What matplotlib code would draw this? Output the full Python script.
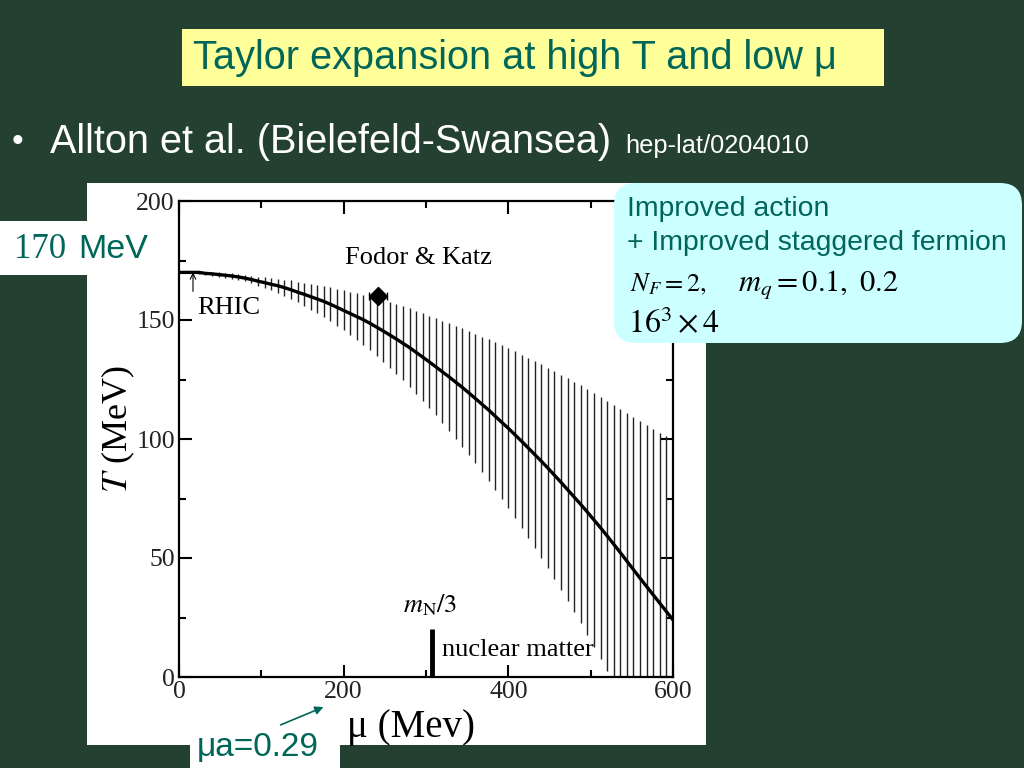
import matplotlib
matplotlib.use('Agg')
import matplotlib.pyplot as plt
from matplotlib.patches import Rectangle, FancyBboxPatch, FancyArrowPatch
from matplotlib.transforms import IdentityTransform

# chemical potential mu (MeV) at which the error bars are drawn
mu = list(range(0, 608, 8))
# transition temperature T(mu) in MeV
T = [170.0, 170.0, 170.0, 170.0, 169.6, 169.4, 169.1, 168.8, 168.5, 168.1,
     167.6, 167.0, 166.3, 165.7, 165.0, 164.4, 163.6, 162.7, 161.7, 160.8,
     159.8, 158.8, 157.8, 156.6, 155.3, 154.0, 152.7, 151.4, 150.1, 148.6,
     147.0, 145.4, 143.7, 142.0, 140.2, 138.4, 136.4, 134.4, 132.4, 130.3,
     128.2, 126.1, 123.9, 121.7, 119.4, 117.0, 114.6, 112.2, 109.6, 107.0,
     104.5, 101.8, 99.1, 96.3, 93.5, 90.7, 87.8, 84.8, 81.8, 78.7,
     75.6, 72.5, 69.3, 66.0, 62.7, 59.3, 55.8, 52.3, 48.7, 45.1,
     41.5, 38.0, 34.5, 31.0, 27.5, 24.0]
# half length of the error bars
dT = [0.0, 0.3, 0.4, 0.5, 0.7, 0.8, 0.9, 1.0, 1.1, 1.2,
      1.4, 1.6, 1.9, 2.2, 2.6, 3.0, 3.4, 3.9, 4.3, 4.8,
      5.4, 5.9, 6.5, 7.1, 7.7, 8.4, 9.1, 9.8, 10.5, 11.3,
      12.1, 12.9, 13.8, 14.6, 15.5, 16.5, 17.4, 18.4, 19.4, 20.4,
      21.5, 22.6, 23.7, 24.9, 26.0, 27.2, 28.4, 29.7, 31.0, 32.3,
      33.6, 35.0, 36.3, 37.8, 39.2, 40.7, 42.1, 43.7, 45.2, 46.8,
      48.4, 50.0, 51.7, 53.3, 55.0, 56.8, 58.5, 60.3, 62.1, 64.0,
      65.9, 67.8, 69.7, 71.6, 73.6, 75.6]

# Fodor & Katz point
fk_mu, fk_T, fk_xerr, fk_yerr = 242, 160, 11, 2
# nuclear matter marker (m_N/3)
nm_mu, nm_T = 307, 20

BG = '#244030'
TEAL = '#00665A'
SERIF = 'Liberation Serif'
SANS = 'Liberation Sans'
plt.rcParams['mathtext.fontset'] = 'stix'


def fx(px):
    return px / 1024


def fy(py):
    return 1 - py / 768


fig = plt.figure(figsize=(10.24, 7.68), dpi=100, facecolor=BG)

# white panel behind the plot
fig.add_artist(Rectangle((fx(87), fy(745)), (706 - 87) / 1024, (745 - 183) / 768,
                         transform=fig.transFigure, facecolor='white', edgecolor='none', zorder=-1))

ax = fig.add_axes([fx(179), fy(677), (673 - 179) / 1024, (677 - 201) / 768])
ax.set_facecolor('white')

lower = [t - d for t, d in zip(T, dT)]
upper = [t + d for t, d in zip(T, dT)]
ax.vlines(mu[1:], lower[1:], upper[1:], color='#222222', lw=1.0)
ax.plot(mu, T, color='black', lw=2.4)
ax.errorbar([fk_mu], [fk_T], xerr=[fk_xerr], yerr=[fk_yerr], fmt='D', color='black',
            ms=9, capsize=3, lw=1.2)

ax.vlines([nm_mu], 0, nm_T, color='black', lw=3.5)
ax.text(305, 30, r'$m_{\rm N}/3$', fontsize=19, ha='center', va='center')
ax.text(319, 11.3, 'nuclear matter', fontsize=19, family=SERIF, ha='left', va='center')
ax.text(202, 176, 'Fodor & Katz', fontsize=19, family=SERIF, ha='left', va='center')
ax.text(22, 155, 'RHIC', fontsize=19, family=SERIF, ha='left', va='center')
ax.annotate('', xy=(17, 170), xytext=(17, 162),
            arrowprops=dict(arrowstyle='->', lw=0.8, color='black', shrinkA=0, shrinkB=0))

ax.set_xlim(0, 600)
ax.set_ylim(0, 200)
ax.set_xticks([0, 200, 400, 600])
ax.set_xticks([100, 300, 500], minor=True)
ax.set_yticks([0, 50, 100, 150, 200])
ax.set_yticks([25, 75, 125, 175], minor=True)
ax.tick_params(which='both', direction='in', top=True, right=True, width=1.5,
               labelsize=18.5, pad=3)
ax.tick_params(which='major', length=9)
ax.tick_params(which='minor', length=5)
for lab in ax.get_xticklabels() + ax.get_yticklabels():
    lab.set_family(SERIF)
    lab.set_color('#222222')
for s in ax.spines.values():
    s.set_linewidth(1.6)
ax.set_xlabel('μ (Mev)', fontsize=28, family=SERIF)
ax.xaxis.set_label_coords(0.47, -0.068)
ax.set_ylabel(r'$T$ (MeV)', fontsize=26, family=SERIF)
ax.yaxis.set_label_coords(-0.085, 0.52)

# title box
fig.add_artist(Rectangle((fx(182), fy(86)), (884 - 182) / 1024, (86 - 29) / 768,
                         transform=fig.transFigure, facecolor='#FFFF99', edgecolor='none'))
fig.text(fx(193), fy(58), 'Taylor expansion at high T and low μ', fontsize=28.6,
         family=SANS, color=TEAL, ha='left', va='center')

# bullet line
fig.text(fx(12), fy(142), '•', fontsize=24, family=SANS, color='white', ha='left', va='center')
fig.text(fx(50), fy(142), 'Allton et al. (Bielefeld-Swansea)', fontsize=28.5,
         family=SANS, color='white', ha='left', va='center')
fig.text(fx(625), fy(146), 'hep-lat/0204010', fontsize=18.3, family=SANS,
         color='white', ha='left', va='center')

# 170 MeV label box
fig.add_artist(Rectangle((0, fy(275)), 150 / 1024, (275 - 221) / 768,
                         transform=fig.transFigure, facecolor='white', edgecolor='none'))
fig.text(fx(14), fy(249), '170', fontsize=25, family=SERIF, color=TEAL, ha='left', va='center')
fig.text(fx(78), fy(249), 'MeV', fontsize=24.5, family=SANS, color=TEAL, ha='left', va='center')

# cyan info box
fig.add_artist(FancyBboxPatch((614, 768 - 343), 1022 - 614, 343 - 183,
                              boxstyle='round,pad=0,rounding_size=22',
                              transform=IdentityTransform(), facecolor='#CCFFFF',
                              edgecolor='none', zorder=3))
fig.text(fx(627), fy(209), 'Improved action', fontsize=20.4, family=SANS, color=TEAL,
         ha='left', va='center', zorder=4)
fig.text(fx(627), fy(243), '+ Improved staggered fermion', fontsize=20.4, family=SANS,
         color=TEAL, ha='left', va='center', zorder=4)
fig.text(fx(630), fy(284), r'$N_F = 2,$', fontsize=19, color='black',
         ha='left', va='center', zorder=4)
fig.text(fx(738), fy(284), r'$m_q = 0.1,\ 0.2$', fontsize=22, color='black',
         ha='left', va='center', zorder=4)
fig.text(fx(628), fy(325), r'$16^3\times 4$', fontsize=23, color='black',
         ha='left', va='center', zorder=4)

# mu a label box
fig.add_artist(Rectangle((fx(190), 0), 150 / 1024, (768 - 735) / 768,
                         transform=fig.transFigure, facecolor='white', edgecolor='none'))
fig.text(fx(197), fy(748), 'μa=0.29', fontsize=24, family=SANS, color=TEAL,
         ha='left', va='center')
fig.add_artist(FancyArrowPatch((fx(278), fy(726)), (fx(326), fy(706)),
                               transform=fig.transFigure, arrowstyle='-|>',
                               mutation_scale=12, color=TEAL, lw=1.2))

fig.savefig('out.png', dpi=100, facecolor=BG)
plt.close(fig)
